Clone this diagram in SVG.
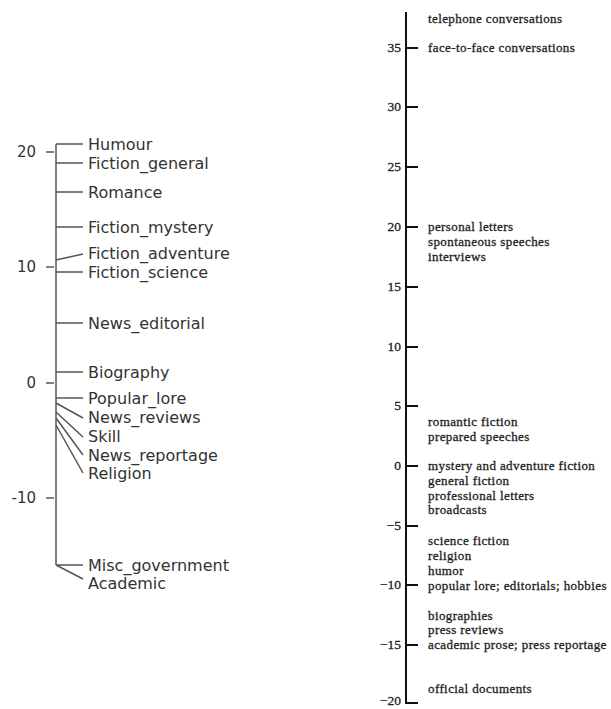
<svg xmlns="http://www.w3.org/2000/svg" width="611" height="709" viewBox="0 0 611 709">
<style>
.l{font-family:"DejaVu Sans",sans-serif;font-size:16px;fill:#333}
.lt{font-family:"DejaVu Sans",sans-serif;font-size:15px;fill:#333;text-anchor:end}
.ln{stroke:#555;stroke-width:1.5;fill:none}
.r{font-family:"Liberation Serif",serif;font-size:13px;letter-spacing:0.4px;fill:#222;stroke:#222;stroke-width:0.3}
.rt{font-family:"Liberation Serif",serif;font-size:13.5px;fill:#222;stroke:#222;stroke-width:0.3;text-anchor:end}
.rl{stroke:#111;stroke-width:2;fill:none}
</style>
<rect width="611" height="709" fill="#fff"/>
<g id="left-axis">
<path class="ln" d="M56,144V565"/>
<path class="ln" d="M46,152H54M46,267H54M46,383H54M46,498H54"/>
<text class="lt" x="36" y="157">20</text>
<text class="lt" x="36" y="272">10</text>
<text class="lt" x="36" y="388">0</text>
<text class="lt" x="36" y="503">-10</text>
</g>
<g id="left-connectors">
<path class="ln" d="M56,144H83M56,163H83M56,192H83M56,227H83M56,260L83,254M56,272H83M56,323H83M56,372H83M56,398H83M56,403L83,418M56,412L83,437M56,418L83,455M56,425L83,473M56,565H83M56,565L83,579"/>
</g>
<g id="left-labels">
<text class="l" x="88" y="150">Humour</text>
<text class="l" x="88" y="169">Fiction_general</text>
<text class="l" x="88" y="198">Romance</text>
<text class="l" x="88" y="233">Fiction_mystery</text>
<text class="l" x="88" y="259">Fiction_adventure</text>
<text class="l" x="88" y="278">Fiction_science</text>
<text class="l" x="88" y="329">News_editorial</text>
<text class="l" x="88" y="378">Biography</text>
<text class="l" x="88" y="404">Popular_lore</text>
<text class="l" x="88" y="423">News_reviews</text>
<text class="l" x="88" y="442">Skill</text>
<text class="l" x="88" y="461">News_reportage</text>
<text class="l" x="88" y="479">Religion</text>
<text class="l" x="88" y="571">Misc_government</text>
<text class="l" x="88" y="589">Academic</text>
</g>
<g id="right-axis">
<path class="rl" d="M406,12V703H418"/>
<path class="rl" d="M406,48H418M406,107H418M406,167H418M406,227H418M406,287H418M406,347H418M406,406H418M406,466H418M406,526H418M406,585H418M406,645H418"/>
<text class="rt" x="401" y="52">35</text>
<text class="rt" x="401" y="111">30</text>
<text class="rt" x="401" y="171">25</text>
<text class="rt" x="401" y="231">20</text>
<text class="rt" x="401" y="291">15</text>
<text class="rt" x="401" y="351">10</text>
<text class="rt" x="401" y="410">5</text>
<text class="rt" x="401" y="470">0</text>
<text class="rt" x="401" y="530">−5</text>
<text class="rt" x="401" y="589">−10</text>
<text class="rt" x="401" y="649">−15</text>
<text class="rt" x="401" y="705">−20</text>
</g>
<g id="right-labels">
<text class="r" x="428" y="23">telephone conversations</text>
<text class="r" x="428" y="52">face-to-face conversations</text>
<text class="r" x="428" y="231">personal letters</text>
<text class="r" x="428" y="246">spontaneous speeches</text>
<text class="r" x="428" y="261">interviews</text>
<text class="r" x="428" y="426">romantic fiction</text>
<text class="r" x="428" y="441">prepared speeches</text>
<text class="r" x="428" y="470">mystery and adventure fiction</text>
<text class="r" x="428" y="485">general fiction</text>
<text class="r" x="428" y="500">professional letters</text>
<text class="r" x="428" y="514">broadcasts</text>
<text class="r" x="428" y="545">science fiction</text>
<text class="r" x="428" y="560">religion</text>
<text class="r" x="428" y="575">humor</text>
<text class="r" x="428" y="590">popular lore; editorials; hobbies</text>
<text class="r" x="428" y="620">biographies</text>
<text class="r" x="428" y="634">press reviews</text>
<text class="r" x="428" y="649">academic prose; press reportage</text>
<text class="r" x="428" y="693">official documents</text>
</g>
</svg>
